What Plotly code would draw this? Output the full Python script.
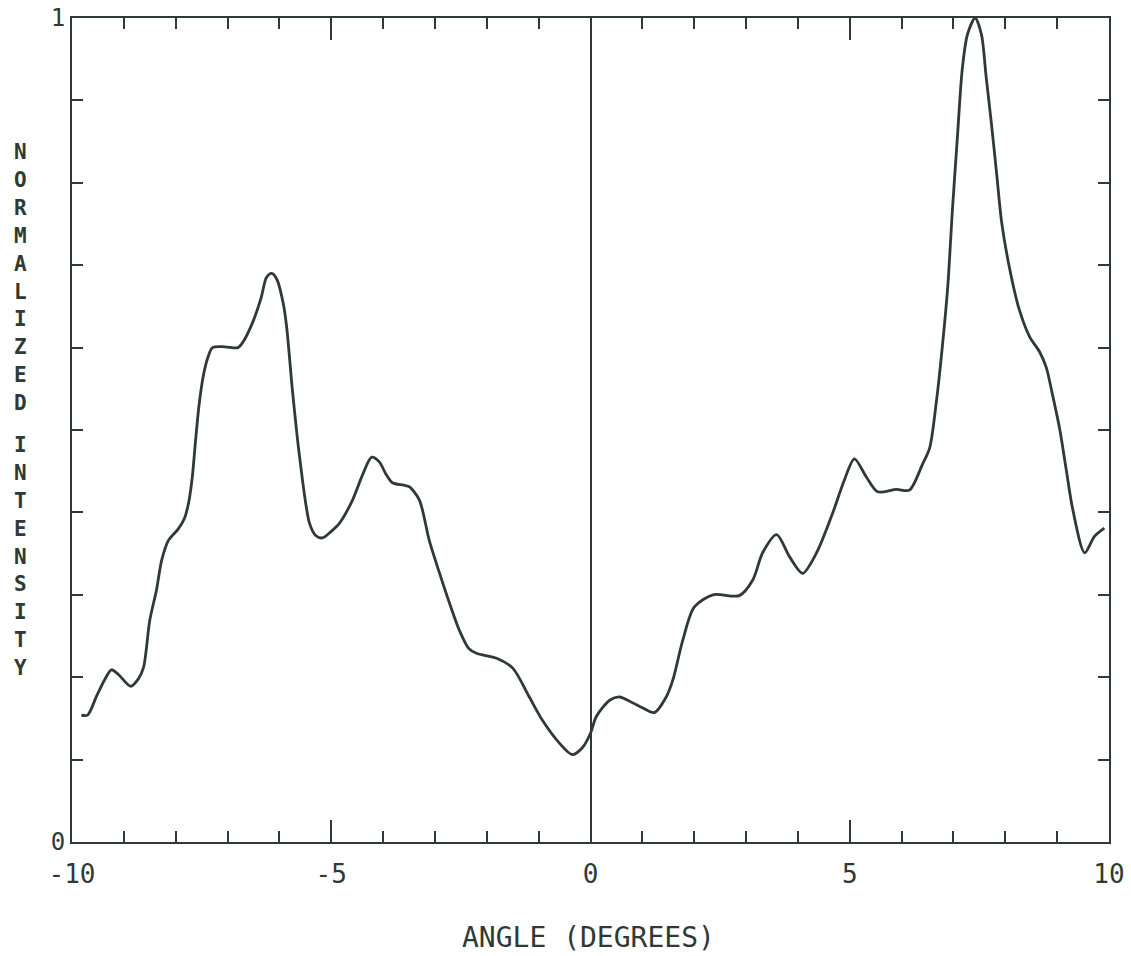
import plotly.graph_objects as go

# Angular scan: normalized intensity vs. angle (degrees)
angle_deg = [
    -9.82, -9.70, -9.52, -9.37, -9.24, -9.10, -8.87, -8.72, -8.62, -8.50,
    -8.37, -8.27, -8.14, -7.95, -7.83, -7.75, -7.68, -7.62, -7.55, -7.47,
    -7.38, -7.29, -7.05, -6.80, -6.71, -6.52, -6.35, -6.25, -6.15, -6.05,
    -5.93, -5.86, -5.75, -5.61, -5.42, -5.30, -5.17, -5.00, -4.84, -4.59,
    -4.40, -4.22, -4.07, -3.95, -3.82, -3.60, -3.49, -3.30, -3.11, -2.91,
    -2.72, -2.53, -2.35, -2.20, -1.81, -1.50, -1.18, -0.93, -0.60, -0.35,
    -0.15, 0.00, 0.11, 0.37, 0.56, 0.81, 1.00, 1.23, 1.46, 1.59,
    1.78, 2.00, 2.36, 2.87, 3.13, 3.32, 3.59, 3.84, 4.09, 4.36,
    4.67, 4.90, 5.09, 5.32, 5.54, 5.90, 6.15, 6.40, 6.54, 6.67,
    6.79, 6.89, 6.98, 7.08, 7.17, 7.27, 7.42, 7.54, 7.63, 7.73,
    7.83, 7.93, 8.08, 8.27, 8.47, 8.66, 8.79, 8.91, 9.05, 9.18,
    9.30, 9.53, 9.72, 9.91,
]
intensity = [
    0.154, 0.154, 0.178, 0.197, 0.209, 0.203, 0.189, 0.198, 0.212, 0.269,
    0.306, 0.342, 0.366, 0.380, 0.393, 0.412, 0.443, 0.485, 0.530, 0.565,
    0.588, 0.600, 0.601, 0.600, 0.606, 0.630, 0.661, 0.685, 0.690, 0.683,
    0.655, 0.625, 0.549, 0.467, 0.387, 0.372, 0.369, 0.377, 0.387, 0.415,
    0.445, 0.467, 0.461, 0.447, 0.436, 0.433, 0.431, 0.415, 0.366, 0.326,
    0.290, 0.257, 0.235, 0.229, 0.223, 0.211, 0.176, 0.148, 0.120, 0.106,
    0.115, 0.132, 0.152, 0.172, 0.176, 0.169, 0.163, 0.157, 0.176, 0.197,
    0.245, 0.285, 0.300, 0.299, 0.318, 0.351, 0.373, 0.346, 0.326, 0.351,
    0.399, 0.440, 0.465, 0.443, 0.425, 0.428, 0.427, 0.458, 0.478, 0.534,
    0.604, 0.674, 0.767, 0.859, 0.938, 0.980, 1.000, 0.980, 0.929, 0.873,
    0.813, 0.752, 0.697, 0.646, 0.613, 0.595, 0.576, 0.543, 0.501, 0.450,
    0.404, 0.351, 0.371, 0.381,
]

x_tick_vals = [-10, -5, 0, 5, 10]
x_tick_text = ["-10", "-5", "0", "5", "10"]
y_tick_vals = [0, 1]
y_tick_text = ["0", "1"]

x_title = "ANGLE (DEGREES)"
y_title = "NORMALIZED INTENSITY"

INK = "#2f3a33"
MONO = "DejaVu Sans Mono"

W, H = 1131, 956
L, R, T, B = 72, 22, 18, 114
plot_h = H - T - B

fig = go.Figure()
fig.add_trace(go.Scatter(
    x=angle_deg, y=intensity, mode="lines",
    line=dict(color=INK, width=2.8, shape="spline", smoothing=0.8),
    showlegend=False, hoverinfo="skip",
))

fig.update_xaxes(
    range=[-10, 10], showgrid=False, automargin=False,
    showline=True, linecolor=INK, linewidth=2, mirror="allticks",
    zeroline=True, zerolinecolor=INK, zerolinewidth=2,
    ticks="inside", ticklen=22, tickwidth=2, tickcolor=INK,
    tickmode="array", tickvals=x_tick_vals, ticktext=x_tick_text,
    minor=dict(dtick=1, tick0=0, ticks="inside", ticklen=11,
               tickwidth=2, tickcolor=INK, showgrid=False),
    tickfont=dict(family=MONO, size=26, color=INK),
    ticklabelstandoff=8,
)
fig.update_yaxes(
    range=[0, 1], showgrid=False, zeroline=False, automargin=False,
    showline=True, linecolor=INK, linewidth=2, mirror="allticks",
    ticks="inside", ticklen=11, tickwidth=2, tickcolor=INK,
    tickmode="array", tickvals=y_tick_vals, ticktext=y_tick_text,
    minor=dict(dtick=0.1, tick0=0, ticks="inside", ticklen=11,
               tickwidth=2, tickcolor=INK, showgrid=False),
    tickfont=dict(family=MONO, size=24, color=INK),
    ticklabelstandoff=0,
)

annotations = [dict(
    text=x_title, xref="paper", yref="paper",
    x=(588 - L) / (W - L - R), y=-(937 - (H - B)) / plot_h,
    xanchor="center", yanchor="middle", showarrow=False,
    font=dict(family=MONO, size=28, color=INK),
)]

# Vertical axis title: upright letters stacked top to bottom,
# the word gap is about half a line taller than a letter step.
step = 27.9
pos = 152.0
for ch in y_title:
    if ch == " ":
        pos += step * 0.5
        continue
    annotations.append(dict(
        text="<b>" + ch + "</b>", xref="paper", yref="paper",
        x=-(L - 20) / (W - L - R), y=((H - B) - pos) / plot_h,
        xanchor="center", yanchor="middle", showarrow=False,
        font=dict(family=MONO, size=21, color=INK),
    ))
    pos += step

fig.update_layout(
    width=W, height=H,
    margin=dict(l=L, r=R, t=T, b=B),
    paper_bgcolor="white", plot_bgcolor="white",
    annotations=annotations,
)

fig.write_html("out.html")
